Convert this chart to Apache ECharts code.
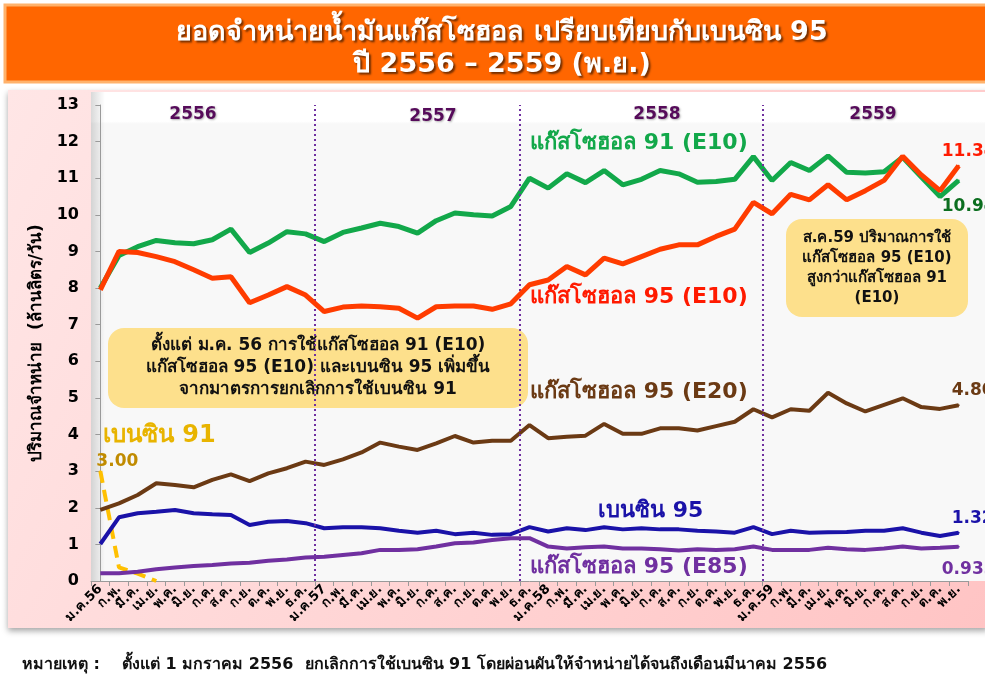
<!DOCTYPE html>
<html>
<head>
<meta charset="utf-8">
<script src="https://cdn.jsdelivr.net/npm/echarts@6/dist/echarts.min.js"></script>
<style>
  html, body { margin: 0; padding: 0; background: #fff; }
  #chart { width: 985px; height: 676px; }
</style>
</head>
<body>
<div id="chart"></div>
<script>
// เดือน ม.ค.56 - พ.ย.59
const months = [
  'ม.ค.56', 'ก.พ.', 'มี.ค.', 'เม.ย.', 'พ.ค.', 'มิ.ย.', 'ก.ค.', 'ส.ค.', 'ก.ย.', 'ต.ค.', 'พ.ย.', 'ธ.ค.',
  'ม.ค.57', 'ก.พ.', 'มี.ค.', 'เม.ย.', 'พ.ค.', 'มิ.ย.', 'ก.ค.', 'ส.ค.', 'ก.ย.', 'ต.ค.', 'พ.ย.', 'ธ.ค.',
  'ม.ค.58', 'ก.พ.', 'มี.ค.', 'เม.ย.', 'พ.ค.', 'มิ.ย.', 'ก.ค.', 'ส.ค.', 'ก.ย.', 'ต.ค.', 'พ.ย.', 'ธ.ค.',
  'ม.ค.59', 'ก.พ.', 'มี.ค.', 'เม.ย.', 'พ.ค.', 'มิ.ย.', 'ก.ค.', 'ส.ค.', 'ก.ย.', 'ต.ค.', 'พ.ย.'
]
const gasohol91E10 = [8.0, 8.89, 9.13, 9.30, 9.24, 9.21, 9.32, 9.61, 8.97, 9.23, 9.54, 9.48,
  9.27, 9.52, 9.64, 9.77, 9.68, 9.50, 9.84, 10.05, 10.0, 9.97, 10.23, 11.0,
  10.73, 11.12, 10.88, 11.21, 10.82, 10.97, 11.21, 11.12, 10.89, 10.91, 10.97, 11.59,
  10.94, 11.43, 11.21, 11.61, 11.16, 11.14, 11.18, 11.57, 11.03, 10.5, 10.94]
const gasohol95E10 = [7.95, 9.0, 8.97, 8.86, 8.72, 8.5, 8.27, 8.31, 7.60, 7.81, 8.04, 7.81,
  7.36, 7.48, 7.51, 7.49, 7.45, 7.18, 7.49, 7.51, 7.51, 7.42, 7.57, 8.09,
  8.22, 8.59, 8.36, 8.82, 8.66, 8.86, 9.06, 9.18, 9.18, 9.41, 9.61, 10.34,
  10.03, 10.56, 10.41, 10.82, 10.41, 10.66, 10.94, 11.60, 11.09, 10.66, 11.34]
const gasohol95E20 = [1.94, 2.12, 2.35, 2.67, 2.62, 2.56, 2.76, 2.91, 2.73, 2.94, 3.08, 3.26,
  3.17, 3.32, 3.51, 3.78, 3.67, 3.58, 3.76, 3.96, 3.78, 3.83, 3.83, 4.26,
  3.90, 3.94, 3.97, 4.29, 4.02, 4.02, 4.17, 4.17, 4.11, 4.23, 4.35, 4.69,
  4.47, 4.69, 4.65, 5.14, 4.85, 4.63, 4.81, 4.99, 4.75, 4.70, 4.80]
const benzine95 = [1.01, 1.74, 1.85, 1.89, 1.94, 1.85, 1.82, 1.80, 1.53, 1.62, 1.64, 1.58,
  1.44, 1.47, 1.47, 1.44, 1.37, 1.32, 1.37, 1.28, 1.32, 1.26, 1.28, 1.47,
  1.35, 1.44, 1.39, 1.47, 1.41, 1.44, 1.41, 1.41, 1.37, 1.35, 1.32, 1.47,
  1.28, 1.37, 1.32, 1.33, 1.34, 1.37, 1.37, 1.44, 1.32, 1.23, 1.32]
const gasohol95E85 = [0.21, 0.21, 0.25, 0.32, 0.37, 0.41, 0.44, 0.48, 0.50, 0.55, 0.59, 0.64,
  0.66, 0.71, 0.76, 0.85, 0.85, 0.87, 0.94, 1.03, 1.05, 1.12, 1.17, 1.17,
  0.94, 0.89, 0.92, 0.94, 0.89, 0.89, 0.87, 0.83, 0.87, 0.85, 0.87, 0.94,
  0.85, 0.85, 0.85, 0.91, 0.87, 0.85, 0.89, 0.94, 0.89, 0.91, 0.933]
// เบนซิน 91 ยกเลิกหลัง มี.ค.56
const benzine91 = [3.00, 0.37, 0.2, 0]
// เส้นแบ่งปี (ตำแหน่งระหว่างเดือน)
const yearDividers = [11.5, 22.5, 35.5]
const yearLabels = ['2556', '2557', '2558', '2559']

const FONT = 'Tahoma, "DejaVu Sans", "Noto Sans", sans-serif'
const chart = echarts.init(document.getElementById('chart'))

// ใส่ป้ายค่าให้จุดเดียว (ต้องมี symbol ถึงจะโชว์ label)
function withLabel(arr, idx, color, position, offset, text) {
  return arr.map((v, i) => {
    if (i !== idx) return v
    return {
      value: v,
      symbol: 'circle',
      symbolSize: 2,
      label: {
        show: true, position: position, offset: offset, color: color,
        fontSize: 17, fontWeight: 'bold', fontFamily: FONT,
        formatter: text
      }
    }
  })
}

function lineSeries(name, data, color, width, z) {
  return {
    name: name,
    type: 'line',
    data: data,
    symbol: 'none',
    showSymbol: true,
    clip: false,
    z: z,
    lineStyle: { color: color, width: width },
    itemStyle: { color: color }
  }
}

const last = months.length - 1
const yellow91 = lineSeries('เบนซิน 91', withLabel(benzine91, 0, '#c08b00', 'top', [17, 5], '3.00'), '#ffc000', 4, 3)
yellow91.lineStyle.type = [12, 7]

function txt(x, y, text, color, size) {
  return {
    type: 'text', x: x, y: y, z: 100,
    style: { text: text, fill: color, font: 'bold ' + size + 'px ' + FONT, textAlign: 'left', textVerticalAlign: 'middle' }
  }
}

function yearTxt(x, y, text) {
  return {
    type: 'text', x: x, y: y, z: 100,
    style: {
      text: text, fill: '#560b5a', font: 'bold 17px ' + FONT, textAlign: 'center', textVerticalAlign: 'middle',
      textShadowColor: 'rgba(0,0,0,0.3)', textShadowBlur: 2, textShadowOffsetX: 1, textShadowOffsetY: 1
    }
  }
}

function box(x, y, w, h, lines, size, lh) {
  const children = [{
    type: 'rect', shape: { x: 0, y: 0, width: w, height: h, r: 16 },
    style: { fill: '#fde08c' }
  }]
  lines.forEach((l, i) => {
    children.push({
      type: 'text', x: w / 2, y: (h - lh * lines.length) / 2 + lh * i + lh / 2,
      style: { text: l, fill: '#111', font: 'bold ' + size + 'px ' + FONT, textAlign: 'center', textVerticalAlign: 'middle' }
    })
  })
  return { type: 'group', x: x, y: y, z: 90, children: children }
}

chart.setOption({
  backgroundColor: '#ffffff',
  animation: false,
  title: {
    text: 'ยอดจำหน่ายน้ำมันแก๊สโซฮอล เปรียบเทียบกับเบนซิน 95\nปี 2556 – 2559 (พ.ย.)',
    left: 497,
    textAlign: 'center',
    top: 12,
    textStyle: {
      color: '#ffffff', fontSize: 27, fontWeight: 'bold', fontFamily: FONT, lineHeight: 32,
      textShadowColor: 'rgba(0,0,0,0.55)', textShadowBlur: 2, textShadowOffsetX: 2, textShadowOffsetY: 2
    }
  },
  graphic: [
    {
      type: 'rect', z: -10, shape: { x: 5, y: 5, width: 982, height: 77 },
      style: { fill: '#ff6600', stroke: '#ffb26b', lineWidth: 3 }
    },
    {
      type: 'rect', z: -10, shape: { x: 8, y: 90, width: 980, height: 538 },
      style: {
        fill: new echarts.graphic.LinearGradient(0, 0, 1, 1, [
          { offset: 0, color: '#ffe6e6' }, { offset: 1, color: '#ffc4c4' }
        ]),
        shadowColor: 'rgba(0,0,0,0.35)', shadowBlur: 6, shadowOffsetY: 3
      }
    },
    {
      type: 'rect', z: -9, shape: { x: 91, y: 92, width: 894, height: 489 },
      style: {
        fill: new echarts.graphic.LinearGradient(0, 0, 0, 1, [
          { offset: 0, color: '#ffffff' }, { offset: 0.06, color: '#ffffff' },
          { offset: 0.065, color: '#f8f8f8' }, { offset: 1, color: '#f8f8f8' }
        ])
      }
    },
    {
      type: 'rect', z: -8, shape: { x: 91, y: 92, width: 14, height: 489 },
      style: {
        fill: new echarts.graphic.LinearGradient(0, 0, 1, 0, [
          { offset: 0, color: 'rgba(0,0,0,0.15)' }, { offset: 1, color: 'rgba(0,0,0,0)' }
        ])
      }
    },
    // ปี
    yearTxt(193, 115, yearLabels[0]),
    yearTxt(433, 117, yearLabels[1]),
    yearTxt(657, 115, yearLabels[2]),
    yearTxt(873, 115, yearLabels[3]),
    // ชื่อเส้น
    txt(530, 143, 'แก๊สโซฮอล 91 (E10)', '#12a84a', 22),
    txt(530, 297, 'แก๊สโซฮอล 95 (E10)', '#ff1a00', 22),
    txt(530, 392, 'แก๊สโซฮอล 95 (E20)', '#6b3a14', 22),
    txt(598, 511, 'เบนซิน 95', '#1a12a8', 22),
    txt(530, 567, 'แก๊สโซฮอล 95 (E85)', '#7030a0', 22),
    txt(103, 436, 'เบนซิน 91', '#e8b400', 24),
    box(108, 328, 420, 80, [
      'ตั้งแต่ ม.ค. 56 การใช้แก๊สโซฮอล 91 (E10)',
      'แก๊สโซฮอล 95 (E10) และเบนซิน 95 เพิ่มขึ้น',
      'จากมาตรการยกเลิกการใช้เบนซิน 91'
    ], 17, 22),
    box(786, 219, 182, 98, [
      'ส.ค.59 ปริมาณการใช้',
      'แก๊สโซฮอล 95 (E10)',
      'สูงกว่าแก๊สโซฮอล 91',
      '(E10)'
    ], 15, 20),
    txt(22, 665, 'หมายเหตุ :', '#111', 16),
    txt(122, 665, 'ตั้งแต่ 1 มกราคม 2556  ยกเลิกการใช้เบนซิน 91 โดยผ่อนผันให้จำหน่ายได้จนถึงเดือนมีนาคม 2556', '#111', 16)
  ],
  grid: {
    left: 91,
    right: 17,
    top: 105,
    bottom: 95
  },
  xAxis: [
    {
      type: 'category',
      data: months,
      boundaryGap: true,
      axisLine: { lineStyle: { color: '#9a9a9a', width: 1 } },
      axisTick: { show: true, length: 5, lineStyle: { color: '#9a9a9a' } },
      axisLabel: {
        interval: 0,
        rotate: 45,
        margin: 6,
        color: '#000',
        fontSize: 13,
        fontWeight: 'bold',
        fontFamily: FONT
      }
    },
    {
      // แกนซ่อนสำหรับเส้นแบ่งปี
      type: 'value',
      show: false,
      min: -0.5,
      max: months.length - 0.5
    }
  ],
  yAxis: {
    type: 'value',
    min: 0,
    max: 13,
    interval: 1,
    name: 'ปริมาณจำหน่าย  (ล้านลิตร/วัน)',
    nameLocation: 'middle',
    nameGap: 46,
    nameTextStyle: { color: '#000', fontSize: 17, fontWeight: 'bold', fontFamily: FONT },
    splitLine: { show: false },
    axisLine: { show: true, lineStyle: { color: '#9a9a9a' } },
    axisTick: { show: true, length: 5, lineStyle: { color: '#9a9a9a' } },
    axisLabel: { color: '#000', fontSize: 16, fontWeight: 'bold', fontFamily: FONT, margin: 12 }
  },
  series: [
    {
      type: 'line',
      xAxisIndex: 1,
      data: [],
      silent: true,
      markLine: {
        silent: true,
        symbol: 'none',
        label: { show: false },
        lineStyle: { color: '#7030a0', type: [2, 3], width: 2 },
        data: yearDividers.map(v => ({ xAxis: v }))
      }
    },
    yellow91,
    lineSeries('แก๊สโซฮอล 91 (E10)', withLabel(gasohol91E10, last, '#0b6e1f', 'bottom', [10, 12], '10.94'), '#12a84a', 5, 4),
    lineSeries('แก๊สโซฮอล 95 (E10)', withLabel(gasohol95E10, last, '#ff1a00', 'top', [10, 0], '11.34'), '#ff3c00', 5, 5),
    lineSeries('แก๊สโซฮอล 95 (E20)', withLabel(gasohol95E20, last, '#6b3a14', 'top', [14, 0], '4.80'), '#6b3a14', 4, 4),
    lineSeries('แก๊สโซฮอล 95 (E85)', withLabel(gasohol95E85, last, '#7030a0', 'bottom', [10, 8], '0.933'), '#7030a0', 4, 4),
    lineSeries('เบนซิน 95', withLabel(benzine95, last, '#1a12a8', 'top', [14, 0], '1.32'), '#1a12a8', 4, 4)
  ]
})
</script>
</body>
</html>
